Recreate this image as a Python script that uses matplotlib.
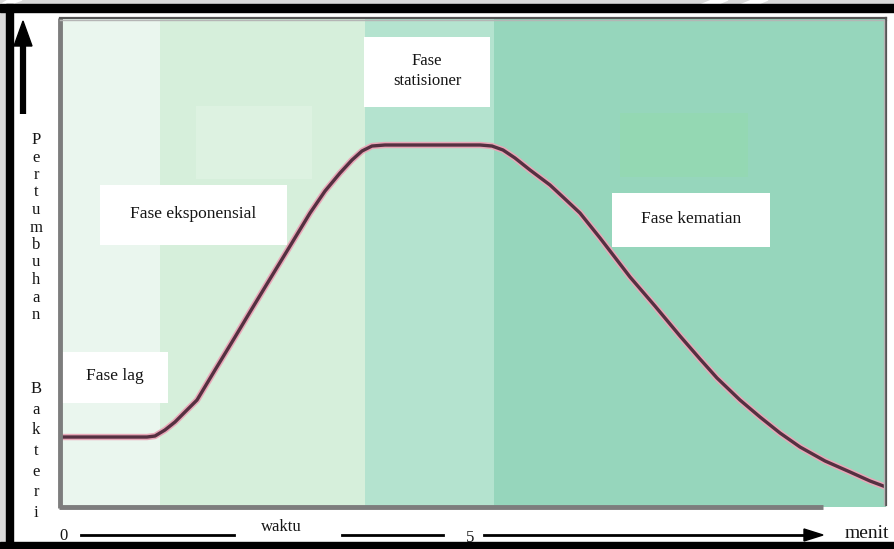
import matplotlib
matplotlib.use("Agg")
import matplotlib.pyplot as plt
from matplotlib.patches import Rectangle, Polygon

# ---- data (time in arbitrary units 0-10, growth in arbitrary units 0-10) ----
time = [0.0, 1.053, 1.150, 1.271, 1.392, 1.513, 1.659, 1.877, 2.119, 2.300, 2.542,
        2.785, 3.027, 3.208, 3.390, 3.535, 3.656, 3.777, 3.935, 5.085, 5.230, 5.363,
        5.508, 5.690, 5.932, 6.114, 6.295, 6.538, 6.901, 7.203, 7.506, 7.748, 7.954,
        8.232, 8.475, 8.717, 8.959, 9.262, 9.564, 9.806, 10.0]
growth = [1.431, 1.431, 1.452, 1.575, 1.738, 1.943, 2.188, 2.802, 3.476, 3.988, 4.663,
          5.337, 6.012, 6.460, 6.830, 7.096, 7.280, 7.382, 7.403, 7.403, 7.382, 7.301,
          7.137, 6.892, 6.585, 6.299, 6.012, 5.501, 4.703, 4.110, 3.497, 3.027, 2.638,
          2.188, 1.840, 1.513, 1.227, 0.941, 0.716, 0.532, 0.409]
phase_edges = [0.0, 1.21, 3.69, 5.25, 10.0]
phase_colors = ["#eaf6ee", "#d6efdb", "#b4e3cf", "#96d6bc"]
phase_labels = ["Fase lag", "Fase eksponensial", "Fase\nstatisioner", "Fase kematian"]
ylabel_words = ["Pertumbuhan", "Bakteri"]
x_tick_labels = ["0", "5"]
x_label = "waktu"
x_unit = "menit"

W, H = 894, 549
fig = plt.figure(figsize=(W / 100, H / 100), dpi=100)
fig.patch.set_facecolor("white")
serif = ["Liberation Serif", "DejaVu Serif"]
txt = "#151515"

# background overlay in pixel coords
bg = fig.add_axes([0, 0, 1, 1], zorder=0)
bg.set_xlim(0, W); bg.set_ylim(H, 0); bg.axis("off")
bg.add_patch(Rectangle((0, 0), W, 5, color="#d9d9d9"))
bg.add_patch(Rectangle((0, 0), 6, H, color="#d9d9d9"))
bg.add_patch(Polygon([(0, 5), (8, 0), (22, 0), (8, 5)], color="white"))
bg.add_patch(Polygon([(700, 5), (712, 0), (728, 0), (716, 5)], color="white"))
bg.add_patch(Polygon([(740, 5), (752, 0), (768, 0), (756, 5)], color="white"))
bg.add_patch(Rectangle((0, 4), W, 8, color="black"))
bg.add_patch(Rectangle((6, 4), 7, H, color="black"))
bg.add_patch(Rectangle((0, 542), W, 7, color="black"))

# main axes
px_l, px_r, px_t, px_b = 60, 886, 18, 507
ax = fig.add_axes([px_l / W, (H - px_b) / H, (px_r - px_l) / W, (px_b - px_t) / H], zorder=1)
ax.set_xlim(0, 10); ax.set_ylim(0, 10); ax.axis("off")

for i, c in enumerate(phase_colors):
    ax.axvspan(phase_edges[i], phase_edges[i + 1], color=c, lw=0, zorder=0)

# faint leftover patches
ax.add_patch(Rectangle((1.65, 6.7), 1.4, 1.5, color="#ddf2e1", lw=0, zorder=0.5))
ax.add_patch(Rectangle((6.78, 6.75), 1.55, 1.3, color="#94dbae", alpha=0.6, lw=0, zorder=0.5))

# growth curve
ax.plot(time, growth, color="#e8a8b8", lw=4.6, solid_capstyle="butt",
        solid_joinstyle="round", zorder=2)
ax.plot(time, growth, color="#553041", lw=2.4, solid_capstyle="butt",
        solid_joinstyle="round", zorder=3)

# phase label boxes (data coords)
boxes = [(0.02, 2.13, 1.29, 1.04), (0.48, 5.36, 2.27, 1.22),
         (3.68, 8.18, 1.53, 1.43), (6.68, 5.32, 1.92, 1.10)]
sizes = [12.5, 12.5, 12, 12.5]
for (bx, by, bw, bh), lab, fs in zip(boxes, phase_labels, sizes):
    ax.add_patch(Rectangle((bx, by), bw, bh, color="white", lw=0, zorder=4))
    ax.text(bx + bw / 2, by + bh / 2 + 0.02, lab, ha="center", va="center",
            fontsize=fs, family=serif, color=txt, zorder=5, linespacing=1.3)

# overlay for frame, arrows and outer texts
ov = fig.add_axes([0, 0, 1, 1], zorder=2)
ov.set_xlim(0, W); ov.set_ylim(H, 0); ov.axis("off"); ov.patch.set_alpha(0)
ov.plot([px_l, px_l], [px_t, px_b + 1], color="#7d7d7d", lw=3.5, solid_capstyle="butt")
ov.plot([px_l - 1.5, 823], [px_b, px_b], color="#7d7d7d", lw=3.5, solid_capstyle="butt")
ov.plot([px_l, px_r], [px_t, px_t], color="#555555", lw=1.6)
ov.plot([px_l, px_r], [px_t + 2, px_t + 2], color="#b5b5b5", lw=1.0)
ov.plot([px_r, px_r], [px_t, 505], color="#555555", lw=1.6)
ov.plot([px_r - 2, px_r - 2], [px_t + 2, 505], color="#b5b5b5", lw=1.0)

# y arrow
ov.plot([23, 23], [40, 114], color="black", lw=4.5, solid_capstyle="butt")
ov.add_patch(Polygon([(23, 21), (14, 46), (32, 46)], color="black"))

# y label letters
word1, word2 = ylabel_words
for i, ch in enumerate(word1):
    ov.text(36, 140 + i * 17.5, ch, ha="center", va="center", fontsize=12, family=serif, color=txt)
for i, ch in enumerate(word2):
    ov.text(36, 389 + i * 20.7, ch, ha="center", va="center", fontsize=12, family=serif, color=txt)

# x axis line segments
ov.text(63, 536, x_tick_labels[0], ha="center", va="center", fontsize=12, family=serif, color=txt)
ov.plot([81, 234], [535, 535], color="black", lw=2)
ov.text(281, 527, x_label, ha="center", va="center", fontsize=12, family=serif, color=txt)
ov.plot([342, 443], [535, 535], color="black", lw=2)
ov.text(470, 538, x_tick_labels[1], ha="center", va="center", fontsize=12, family=serif, color=txt)
ov.plot([484, 806], [535, 535], color="black", lw=2)
ov.add_patch(Polygon([(823, 535), (804, 529), (804, 541)], color="black"))
ov.text(845, 533, x_unit, ha="left", va="center", fontsize=14, family=serif, color=txt)

fig.savefig("out.png", dpi=100)
